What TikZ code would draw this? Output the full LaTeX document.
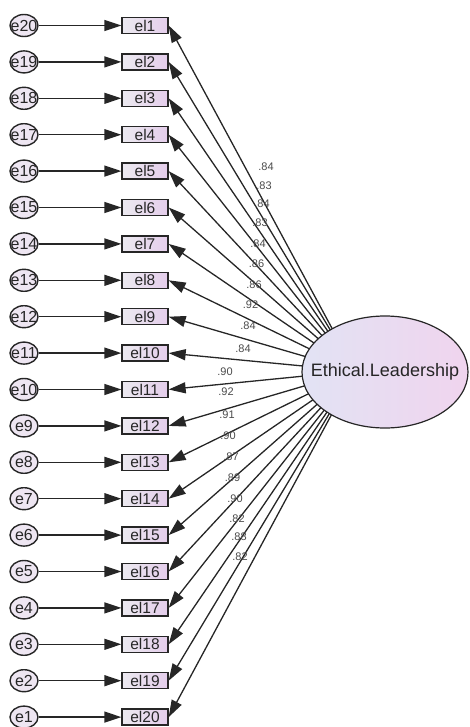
\documentclass[tikz,border=0pt]{standalone}
\usepackage{fontspec}
\setmainfont{Liberation Sans}
\usetikzlibrary{arrows.meta,shapes.geometric,intersections,calc}

\definecolor{ink}{HTML}{262626}
\definecolor{boxL}{HTML}{ECEAF0}
\definecolor{boxR}{HTML}{E4CDEB}
\definecolor{errfill}{HTML}{EEE6F2}
\definecolor{latL}{HTML}{E2E3F4}
\definecolor{latR}{HTML}{F0D4EE}
\definecolor{wtgrey}{HTML}{4A4A4A}

\begin{document}
\begin{tikzpicture}[x=1pt,y=-1pt,
  obs/.style={rectangle, draw=ink, line width=1.3pt, minimum width=46pt,
    minimum height=16pt, inner sep=0pt, left color=boxL, right color=boxR,
    text=ink, font=\fontsize{15.5}{15.5}\selectfont},
  err/.style={ellipse, draw=ink, line width=1.4pt, minimum width=28pt,
    minimum height=22pt, inner sep=0pt, fill=errfill, text=ink,
    font=\fontsize{16}{16}\selectfont},
  lat/.style={ellipse, draw=ink, line width=1.2pt, minimum width=166pt,
    minimum height=112pt, inner sep=0pt, left color=latL, right color=latR,
    text=ink, font=\fontsize{18}{18}\selectfont},
  regline/.style={draw=ink, line width=1.3pt,
    -{Triangle[length=17pt,width=11pt]}},
  wt/.style={inner sep=0pt, text=wtgrey, font=\fontsize{11}{11}\selectfont}
]
\useasboundingbox (0,0) rectangle (470,727);

% latent factor and the outline used to clip its paths
\node[lat] (L) at (385,372) {\makebox[0pt]{Ethical.Leadership}};
\path[name path=rim] (385,372) ellipse [x radius=83pt, y radius=56pt];
\coordinate (F) at (355,371);

% indicators with their error terms
\foreach \k [evaluate=\k as \yy using 25.5+36.4*(\k-1),
             evaluate=\k as \e using int(21-\k)] in {1,...,20} {
  \node[obs] (el\k) at (145,\yy) {el\k};
  \node[err] (e\e) at (24,\yy) {\makebox[0pt]{e\e}};
  \draw[regline] (e\e) -- (el\k);
}

% factor loadings paths
\foreach \k in {1,...,20} {
  \path[name path=ray] (el\k.east) -- (F);
  \path[name intersections={of=ray and rim, by={s\k}}];
  \draw[regline] (s\k) -- (el\k.east);
}

% standardized loadings
\foreach \v/\x/\y [count=\i] in {
  .84/266/167, .83/264/186, .84/262/204, .83/260/223, .84/258/244,
  .86/256.5/264, .86/254/285, .92/250.5/305, .84/248/326, .84/243/349,
  .90/225/372, .92/226/392, .91/227/415, .90/228/436, .87/231/457,
  .89/232.5/478, .90/235/499, .82/237/519, .88/239/537, .82/240/557} {
  \node[wt] (w\i) at (\x,\y) {\v};
}
\end{tikzpicture}
\end{document}
